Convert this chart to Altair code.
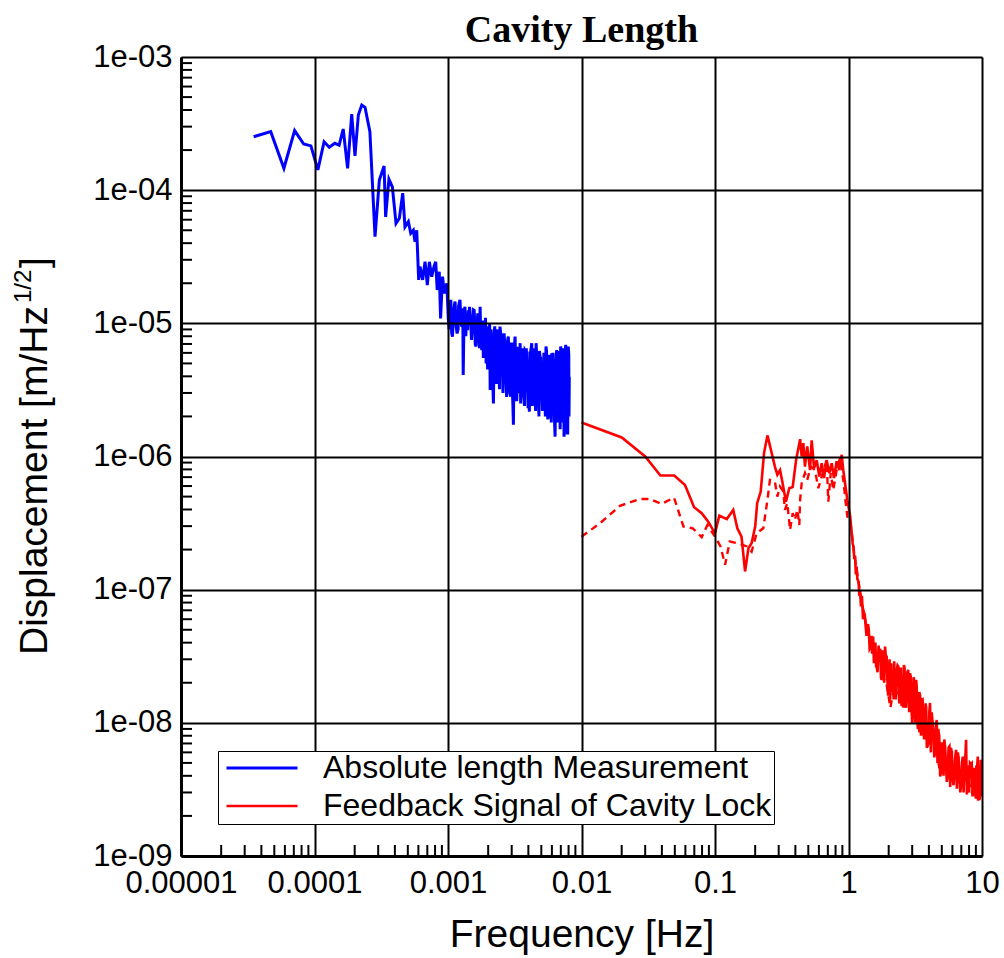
import altair as alt
import pandas as pd

# ---------------- data ----------------
series_names = ["Absolute length Measurement", "Feedback Signal of Cavity Lock"]
series_colors = ["#0000ff", "#ff0000"]
series_widths = [3.0, 2.6]

abs_f = [3.5e-5, 4.7e-5, 5.9e-5, 7.1e-5, 8.3e-5, 9.4e-5, 1.06e-4, 1.18e-4, 1.29e-4, 1.42e-4,
         1.53e-4, 1.64e-4, 1.77e-4, 1.9e-4, 2.01e-4, 2.13e-4, 2.26e-4, 2.39e-4, 2.6e-4, 2.84e-4,
         3.06e-4, 3.32e-4, 3.41e-4, 3.61e-4, 3.83e-4, 4.08e-4, 4.32e-4, 4.58e-4, 4.76e-4, 5.05e-4,
         5.26e-4, 5.5e-4, 5.66e-4, 5.83e-4, 6.03e-4, 6.17e-4, 6.46e-4, 6.73e-4, 7.0e-4, 7.25e-4,
         7.55e-4, 7.86e-4, 8.09e-4, 8.3e-4, 8.6e-4, 8.8e-4, 9.1e-4, 9.4e-4, 9.8e-4, 1.005e-3,
         1.05e-3, 1.08e-3, 1.13e-3, 1.17e-3, 1.23e-3, 1.27e-3, 1.30e-3, 1.34e-3, 1.4e-3, 1.45e-3,
         1.51e-3, 1.55e-3, 1.62e-3, 1.67e-3, 1.74e-3, 1.79e-3, 1.86e-3, 1.93e-3, 2.0e-3, 2.07e-3,
         2.12e-3, 2.19e-3, 2.29e-3, 2.38e-3, 2.45e-3, 2.52e-3, 2.63e-3, 2.72e-3, 2.83e-3, 2.95e-3,
         3.09e-3, 3.18e-3, 3.31e-3, 3.47e-3, 3.63e-3, 3.78e-3, 3.94e-3, 4.07e-3, 4.24e-3, 4.41e-3,
         4.57e-3, 4.75e-3, 4.94e-3, 5.17e-3, 5.42e-3, 5.64e-3, 5.8e-3, 5.98e-3, 6.16e-3, 6.34e-3,
         6.52e-3, 6.78e-3, 6.98e-3, 7.23e-3, 7.4e-3, 7.62e-3, 7.83e-3, 7.96e-3, 8.1e-3]
abs_d = [2.52e-4, 2.75e-4, 1.46e-4, 2.8e-4, 2.22e-4, 2.15e-4, 1.42e-4, 2.31e-4, 2.1e-4, 2.25e-4,
         2.18e-4, 2.88e-4, 1.46e-4, 3.73e-4, 1.81e-4, 3.67e-4, 4.36e-4, 4.19e-4, 2.75e-4, 4.48e-5,
         1.19e-4, 1.52e-4, 6.3e-5, 1.21e-4, 1.06e-4, 5.64e-5, 6.15e-5, 9.5e-5, 5.3e-5, 5.8e-5,
         4.75e-5, 5.0e-5, 4.1e-5, 5.0e-5, 2.12e-5, 2.67e-5, 2.12e-5, 2.9e-5, 1.94e-5, 2.9e-5,
         2.24e-5, 2.67e-5, 2.9e-5, 1.78e-5, 2.44e-5, 1.09e-5, 2.24e-5, 1.68e-5, 2.0e-5, 1.09e-5,
         1.5e-5, 7.95e-6, 1.46e-5, 8.4e-6, 1.5e-5, 9.45e-6, 4.1e-6, 1.33e-5, 8.9e-6, 1.33e-5,
         8.4e-6, 1.26e-5, 6.7e-6, 1.19e-5, 1.33e-5, 6.3e-6, 8.9e-6, 5.0e-6, 7.95e-6, 3.16e-6,
         7.1e-6, 2.5e-6, 7.5e-6, 4.47e-6, 9.45e-6, 3.98e-6, 8.4e-6, 3.55e-6, 7.95e-6, 2.82e-6,
         1.73e-6, 7.95e-6, 3.55e-6, 7.1e-6, 3.35e-6, 6.3e-6, 3.55e-6, 2.17e-6, 7.1e-6, 3.55e-6,
         7.1e-6, 2.98e-6, 5.6e-6, 2.5e-6, 6.7e-6, 3.16e-6, 1.94e-6, 5.96e-6, 2.5e-6, 1.41e-6,
         6.3e-6, 2.66e-6, 6.7e-6, 2.24e-6, 1.41e-6, 6.9e-6, 1.5e-6, 6.7e-6, 3.98e-6]
# further readings inside the dense noise band (1e-3 .. 8e-3 Hz)
abs_f_band = [1.02e-3, 1.10e-3, 1.15e-3, 1.20e-3, 1.25e-3, 1.32e-3, 1.37e-3, 1.42e-3, 1.48e-3, 1.53e-3,
              1.58e-3, 1.64e-3, 1.70e-3, 1.76e-3, 1.82e-3, 1.89e-3, 1.96e-3, 2.03e-3, 2.10e-3, 2.15e-3,
              2.22e-3, 2.26e-3, 2.33e-3, 2.41e-3, 2.48e-3, 2.56e-3, 2.59e-3, 2.67e-3, 2.77e-3, 2.88e-3,
              3.00e-3, 3.04e-3, 3.13e-3, 3.24e-3, 3.38e-3, 3.42e-3, 3.55e-3, 3.70e-3, 3.86e-3, 4.00e-3,
              4.15e-3, 4.32e-3, 4.49e-3, 4.66e-3, 4.84e-3, 5.05e-3, 5.30e-3, 5.53e-3, 5.72e-3, 5.89e-3,
              6.07e-3, 6.25e-3, 6.43e-3, 6.65e-3, 6.88e-3, 7.10e-3, 7.32e-3, 7.50e-3, 7.72e-3, 7.90e-3,
              8.03e-3]
abs_d_band = [9.0e-6, 1.2e-5, 9.5e-6, 1.35e-5, 1.0e-5, 1.2e-5, 1.0e-5, 1.25e-5, 1.0e-5, 9.0e-6,
              1.1e-5, 8.0e-6, 1.0e-5, 7.5e-6, 1.05e-5, 6.0e-6, 9.5e-6, 5.5e-6, 9.0e-6, 4.5e-6,
              8.5e-6, 4.0e-6, 8.0e-6, 5.0e-6, 8.5e-6, 4.5e-6, 7.5e-6, 4.0e-6, 7.0e-6, 3.8e-6,
              7.0e-6, 3.0e-6, 6.5e-6, 3.2e-6, 6.5e-6, 3.0e-6, 6.0e-6, 2.8e-6, 6.5e-6, 3.0e-6,
              6.0e-6, 2.6e-6, 6.0e-6, 2.4e-6, 6.2e-6, 3.0e-6, 5.5e-6, 2.3e-6, 5.8e-6, 2.7e-6,
              5.5e-6, 2.2e-6, 5.0e-6, 2.0e-6, 5.5e-6, 2.5e-6, 6.0e-6, 2.0e-6, 5.5e-6, 2.2e-6,
              5.8e-6]
abs_f_band2 = [1.035e-3, 1.065e-3, 1.12e-3, 1.19e-3, 1.29e-3, 1.36e-3, 1.44e-3, 1.50e-3, 1.57e-3, 1.60e-3,
               1.69e-3, 1.72e-3, 1.81e-3, 1.84e-3, 1.91e-3, 1.98e-3, 2.05e-3, 2.14e-3, 2.24e-3, 2.31e-3,
               2.36e-3, 2.43e-3, 2.50e-3, 2.58e-3, 2.65e-3, 2.75e-3, 2.80e-3, 2.90e-3, 2.98e-3, 3.06e-3,
               3.15e-3, 3.27e-3, 3.35e-3, 3.50e-3, 3.60e-3, 3.74e-3, 3.82e-3, 3.98e-3, 4.10e-3, 4.28e-3,
               4.37e-3, 4.53e-3, 4.62e-3, 4.80e-3, 4.90e-3, 5.10e-3, 5.23e-3, 5.36e-3, 5.47e-3, 5.60e-3,
               5.76e-3, 5.94e-3, 6.11e-3, 6.30e-3, 6.47e-3, 6.60e-3, 6.72e-3, 6.92e-3, 7.05e-3, 7.18e-3,
               7.28e-3, 7.45e-3, 7.56e-3, 7.68e-3, 7.78e-3, 7.88e-3, 7.99e-3, 8.06e-3]
abs_d_band2 = [1.3e-5, 8.5e-6, 1.4e-5, 9.0e-6, 1.3e-5, 8.0e-6, 1.2e-5, 7.5e-6, 1.25e-5, 7.0e-6,
               1.1e-5, 6.5e-6, 1.0e-5, 5.5e-6, 1.1e-5, 4.5e-6, 1.0e-5, 3.8e-6, 9.5e-6, 3.5e-6,
               9.0e-6, 3.2e-6, 8.0e-6, 3.0e-6, 7.5e-6, 2.8e-6, 7.5e-6, 3.0e-6, 7.0e-6, 2.5e-6,
               6.8e-6, 2.6e-6, 6.5e-6, 2.5e-6, 6.5e-6, 2.4e-6, 6.2e-6, 2.3e-6, 6.0e-6, 2.4e-6,
               6.5e-6, 2.2e-6, 5.8e-6, 2.0e-6, 5.5e-6, 2.2e-6, 6.0e-6, 2.0e-6, 6.2e-6, 1.9e-6,
               5.5e-6, 1.8e-6, 6.0e-6, 1.7e-6, 5.8e-6, 1.8e-6, 6.2e-6, 1.6e-6, 6.0e-6, 1.8e-6,
               6.5e-6, 1.6e-6, 6.0e-6, 1.7e-6, 6.5e-6, 1.5e-6, 6.3e-6, 2.0e-6]

fb_f = [0.01, 0.02, 0.03, 0.039, 0.0495, 0.0596, 0.0697, 0.0795, 0.089, 0.1,
        0.1077, 0.1225, 0.137, 0.147, 0.158, 0.168, 0.178, 0.188, 0.2, 0.207,
        0.22, 0.233, 0.247, 0.266, 0.281, 0.293, 0.307, 0.321, 0.34, 0.36,
        0.382, 0.405, 0.434, 0.446, 0.459, 0.472, 0.491, 0.515, 0.53, 0.552,
        0.578, 0.604, 0.63, 0.655, 0.686, 0.718, 0.748, 0.778, 0.815, 0.853,
        0.889, 0.914, 0.942, 0.98,
        1.03, 1.09, 1.15, 1.22, 1.31, 1.38, 1.47, 1.53, 1.61, 1.70,
        1.77, 1.88, 1.95, 2.05, 2.14, 2.23, 2.36, 2.50, 2.60, 2.73,
        2.89, 3.03, 3.21, 3.34, 3.54, 3.74, 3.90, 4.08, 4.33, 4.58,
        4.86, 5.08, 5.38, 5.70, 6.04, 6.40, 6.78, 7.18, 7.60, 7.91,
        8.38, 8.88, 9.30, 9.55, 9.78]
fb_d = [1.8e-6, 1.39e-6, 1.0e-6, 7.2e-7, 7.2e-7, 6.1e-7, 4.16e-7, 3.75e-7, 3.24e-7, 2.65e-7,
        3.6e-7, 3.39e-7, 3.97e-7, 2.89e-7, 2.5e-7, 1.37e-7, 2.05e-7, 2.23e-7, 2.98e-7, 4.46e-7,
        5.45e-7, 1.06e-6, 1.44e-6, 1.06e-6, 8.4e-7, 7.3e-7, 7.9e-7, 6.3e-7, 4.58e-7, 5.78e-7,
        5.9e-7, 9.4e-7, 1.35e-6, 1.0e-6, 1.26e-6, 8.4e-7, 1.19e-6, 7.9e-7, 1.32e-6, 8.2e-7,
        9.4e-7, 7.07e-7, 8.9e-7, 6.9e-7, 9.4e-7, 7.5e-7, 8.9e-7, 6.9e-7, 9.2e-7, 7.9e-7,
        1.03e-6, 7.9e-7, 6.3e-7, 4.72e-7,
        3.54e-7, 2.11e-7, 1.49e-7, 9.96e-8, 6.67e-8, 5.29e-8, 3.74e-8, 4.45e-8, 2.65e-8, 3.33e-8,
        2.1e-8, 3.74e-8, 2.23e-8, 1.49e-8, 2.36e-8, 1.77e-8, 2.65e-8, 1.33e-8, 2.72e-8, 1.67e-8,
        2.36e-8, 1.18e-8, 2.1e-8, 9.4e-9, 1.49e-8, 9.4e-9, 6.64e-9, 1.41e-8, 8.4e-9, 1.05e-8,
        3.95e-9, 7.0e-9, 4.7e-9, 6.64e-9, 3.73e-9, 6.27e-9, 3.73e-9, 5.58e-9, 7.45e-9, 3.14e-9,
        4.98e-9, 2.96e-9, 5.58e-9, 2.64e-9, 5.27e-9]
# further readings inside the noisy roll-off band (1 .. 10 Hz)
fb_f_band = [1.06, 1.12, 1.19, 1.26, 1.34, 1.42, 1.50, 1.57, 1.65, 1.73,
             1.82, 1.91, 2.00, 2.09, 2.18, 2.29, 2.43, 2.55, 2.66, 2.80,
             2.96, 3.12, 3.27, 3.44, 3.64, 3.82, 3.98, 4.20, 4.45, 4.70,
             4.97, 5.22, 5.53, 5.85, 6.22, 6.58, 6.98, 7.38, 7.75, 8.12,
             8.62, 9.08, 9.42, 9.68, 9.90]
fb_d_band = [2.6e-7, 1.8e-7, 1.15e-7, 9.0e-8, 5.5e-8, 5.0e-8, 3.3e-8, 3.8e-8, 2.4e-8, 3.6e-8,
             2.5e-8, 3.0e-8, 1.8e-8, 2.8e-8, 1.5e-8, 2.4e-8, 1.6e-8, 2.3e-8, 1.4e-8, 2.5e-8,
             1.3e-8, 2.0e-8, 1.1e-8, 1.6e-8, 8.5e-9, 1.3e-8, 7.5e-9, 1.2e-8, 6.0e-9, 9.0e-9,
             5.0e-9, 7.5e-9, 4.0e-9, 6.5e-9, 4.2e-9, 6.0e-9, 3.5e-9, 5.2e-9, 3.3e-9, 5.0e-9,
             3.2e-9, 4.8e-9, 2.9e-9, 4.6e-9, 3.1e-9]
fb_f_band2 = [1.045, 1.075, 1.105, 1.135, 1.165, 1.205, 1.24, 1.285, 1.325, 1.365,
              1.40, 1.44, 1.49, 1.55, 1.59, 1.63, 1.68, 1.75, 1.80, 1.85,
              1.93, 1.98, 2.03, 2.12, 2.20, 2.26, 2.33, 2.40, 2.47, 2.58,
              2.63, 2.70, 2.76, 2.85, 2.93, 3.00, 3.08, 3.16, 3.24, 3.31,
              3.39, 3.49, 3.59, 3.69, 3.78, 3.86, 4.03, 4.14, 4.27, 4.39,
              4.52, 4.64, 4.78, 4.92, 5.01, 5.15, 5.30, 5.45, 5.62, 5.78,
              5.95, 6.12, 6.30, 6.48, 6.68, 6.88, 7.08, 7.28, 7.48, 7.70,
              7.85, 8.00, 8.25, 8.50, 8.75, 9.00, 9.18, 9.35, 9.50, 9.62,
              9.72, 9.85, 9.95]
fb_d_band2 = [3.0e-7, 2.2e-7, 1.7e-7, 1.3e-7, 1.2e-7, 9.0e-8, 7.5e-8, 6.0e-8, 6.5e-8, 4.5e-8,
              5.5e-8, 3.6e-8, 4.5e-8, 2.8e-8, 4.0e-8, 2.6e-8, 3.8e-8, 2.2e-8, 3.5e-8, 2.0e-8,
              3.2e-8, 1.6e-8, 3.0e-8, 1.7e-8, 2.9e-8, 1.5e-8, 2.7e-8, 1.4e-8, 2.6e-8, 1.3e-8,
              2.6e-8, 1.3e-8, 2.4e-8, 1.2e-8, 2.2e-8, 1.0e-8, 2.2e-8, 1.0e-8, 1.9e-8, 9.0e-9,
              1.7e-8, 8.0e-9, 1.5e-8, 7.5e-9, 1.4e-8, 6.5e-9, 1.2e-8, 6.0e-9, 1.0e-8, 5.5e-9,
              9.5e-9, 5.0e-9, 8.0e-9, 4.2e-9, 7.0e-9, 4.0e-9, 6.5e-9, 3.6e-9, 6.5e-9, 3.3e-9,
              6.0e-9, 3.4e-9, 5.5e-9, 3.2e-9, 5.5e-9, 3.0e-9, 5.0e-9, 3.0e-9, 5.2e-9, 2.9e-9,
              4.8e-9, 3.0e-9, 4.9e-9, 2.8e-9, 4.6e-9, 2.7e-9, 4.5e-9, 2.6e-9, 4.7e-9, 2.7e-9,
              4.4e-9, 2.8e-9, 4.0e-9]

fb2_f = [0.01, 0.0138, 0.0194, 0.0274, 0.0326, 0.0398, 0.0493, 0.058, 0.0681, 0.0795,
         0.0877, 0.1, 0.110, 0.119, 0.129, 0.154, 0.173, 0.188, 0.205, 0.23,
         0.247, 0.258, 0.281, 0.293, 0.307, 0.325, 0.334, 0.348, 0.365, 0.382,
         0.397, 0.414, 0.428, 0.434, 0.446, 0.472, 0.491, 0.521, 0.561, 0.594,
         0.641, 0.686, 0.706, 0.736, 0.769, 0.815, 0.863, 0.914, 0.957, 0.98,
         1.03, 1.10, 1.18, 1.26, 1.35, 1.45, 1.56, 1.66, 1.78, 1.92,
         2.06, 2.20, 2.40, 2.62, 2.85, 3.10, 3.40, 3.70, 4.00, 4.40,
         4.80, 5.30, 5.80, 6.40, 7.00, 7.70, 8.40, 9.20, 9.90]
fb2_d = [2.5e-7, 3.16e-7, 4.26e-7, 4.8e-7, 4.8e-7, 4.4e-7, 4.92e-7, 2.98e-7, 2.89e-7, 2.48e-7,
         3.06e-7, 2.5e-7, 2.11e-7, 1.54e-7, 2.3e-7, 2.21e-7, 2.11e-7, 1.93e-7, 2.65e-7, 2.89e-7,
         4.72e-7, 6.67e-7, 6.48e-7, 5.0e-7, 5.94e-7, 5.45e-7, 3.97e-7, 4.46e-7, 2.81e-7, 3.75e-7,
         3.34e-7, 3.97e-7, 3.06e-7, 4.72e-7, 6.3e-7, 7.5e-7, 6.67e-7, 8.4e-7, 7.9e-7, 5.78e-7,
         7.5e-7, 9.4e-7, 4.58e-7, 7.5e-7, 5.6e-7, 7.9e-7, 9.7e-7, 6.67e-7, 4.34e-7, 3.54e-7,
         3.3e-7, 1.9e-7, 1.2e-7, 8.0e-8, 5.6e-8, 4.0e-8, 3.3e-8, 2.5e-8, 2.3e-8, 2.0e-8,
         1.3e-8, 1.9e-8, 1.5e-8, 2.0e-8, 1.4e-8, 1.5e-8, 8.5e-9, 1.1e-8, 7.0e-9, 8.0e-9,
         4.5e-9, 5.5e-9, 3.6e-9, 4.5e-9, 3.3e-9, 4.0e-9, 3.0e-9, 3.4e-9, 2.8e-9]

x_ticks = [1e-5, 1e-4, 1e-3, 1e-2, 1e-1, 1, 10]
y_ticks = [1e-9, 1e-8, 1e-7, 1e-6, 1e-5, 1e-4, 1e-3]
x_minor = [m * 10.0 ** e for e in range(-5, 1) for m in range(2, 10)]
y_minor = [m * 10.0 ** e for e in range(-9, -3) for m in range(2, 10)]

# ---------------- chart ----------------
W, H = 801, 799
SANS = "Liberation Sans, Arial, sans-serif"

a_f = abs_f + abs_f_band + abs_f_band2
a_d = abs_d + abs_d_band + abs_d_band2
r_f = fb_f + fb_f_band + fb_f_band2
r_d = fb_d + fb_d_band + fb_d_band2
solid = pd.DataFrame({
    "f": a_f + r_f,
    "d": a_d + r_d,
    "series": [series_names[0]] * len(a_f) + [series_names[1]] * len(r_f),
})
dashed = pd.DataFrame({"f": fb2_f, "d": fb2_d})

xscale = alt.Scale(type="log", domain=[1e-5, 10], nice=False)
yscale = alt.Scale(type="log", domain=[1e-9, 1e-3], nice=False)

xaxis = alt.Axis(values=x_ticks, labelExpr="format(datum.value, '.5~f')",
                 title="Frequency [Hz]", grid=True, ticks=False, zindex=1,
                 labelFontSize=31, labelFont=SANS, labelColor="black", labelPadding=12,
                 labelOverlap=False, labelFlush=False, labelBound=False,
                 titleFontSize=39, titleFont=SANS, titleFontWeight="normal",
                 titleColor="black", titlePadding=17,
                 domainColor="black", domainWidth=3,
                 gridColor="black", gridWidth=2, gridOpacity=1)
yaxis = alt.Axis(values=y_ticks,
                 labelExpr="'1e-0' + format(-log(datum.value) / LN10, '.0f')",
                 title=None, grid=True, ticks=False, zindex=1,
                 labelFontSize=31, labelFont=SANS, labelColor="black", labelPadding=9,
                 labelOverlap=False, labelFlush=False, labelBound=False,
                 domainColor="black", domainWidth=3,
                 gridColor="black", gridWidth=2, gridOpacity=1)

X = alt.X("f:Q", scale=xscale, axis=xaxis)
Y = alt.Y("d:Q", scale=yscale, axis=yaxis)

lines = alt.Chart(solid).mark_line().encode(
    x=X, y=Y,
    color=alt.Color("series:N",
                    scale=alt.Scale(domain=series_names, range=series_colors),
                    legend=alt.Legend(title=None, orient="none", legendX=37, legendY=694,
                                      direction="vertical", symbolType="stroke",
                                      symbolSize=5041, symbolStrokeWidth=2.5,
                                      symbolOffset=5, clipHeight=30,
                                      labelFontSize=32, labelFont=SANS, labelColor="black",
                                      labelOffset=24, rowPadding=6, padding=2,
                                      strokeColor="black", fillColor="white",
                                      labelLimit=0, zindex=2)),
    strokeWidth=alt.StrokeWidth("series:N",
                                scale=alt.Scale(domain=series_names, range=series_widths),
                                legend=None),
)

dash = alt.Chart(dashed).mark_line(color="#ff0000", strokeWidth=2.4,
                                   strokeDash=[7, 5]).encode(x=X, y=Y)

xminor_layer = alt.Chart(pd.DataFrame({"f": x_minor})).mark_rule(
    color="black", strokeWidth=2).encode(x=X, y=alt.value(H), y2=alt.value(H - 11))
yminor_layer = alt.Chart(pd.DataFrame({"d": y_minor})).mark_rule(
    color="black", strokeWidth=2).encode(y=Y, x=alt.value(0), x2=alt.value(11))

dummy = pd.DataFrame({"k": [0]})
ytitle_main = alt.Chart(dummy).mark_text(
    text="Displacement [m/Hz", angle=270, align="left", baseline="alphabetic",
    fontSize=39, font=SANS, color="black").encode(x=alt.value(-134), y=alt.value(598))
ytitle_sup = alt.Chart(dummy).mark_text(
    text="1/2", angle=270, align="left", baseline="alphabetic",
    fontSize=24, font=SANS, color="black").encode(x=alt.value(-150), y=alt.value(246))
ytitle_end = alt.Chart(dummy).mark_text(
    text="]", angle=270, align="left", baseline="alphabetic",
    fontSize=39, font=SANS, color="black").encode(x=alt.value(-134), y=alt.value(211))

chart = alt.layer(
    lines, dash, xminor_layer, yminor_layer, ytitle_main, ytitle_sup, ytitle_end
).properties(
    width=W, height=H,
    title=alt.TitleParams("Cavity Length", font="Liberation Serif", fontSize=38,
                          fontWeight="bold", color="black", anchor="middle",
                          frame="group", offset=-9),
    autosize=alt.AutoSizeParams(type="none"),
    padding={"left": 181, "top": 57, "right": 22, "bottom": 102},
).configure_view(
    stroke="black", strokeWidth=2.5
).configure(background="white")

chart.save("out.html", embed_options={"renderer": "svg", "actions": False})
